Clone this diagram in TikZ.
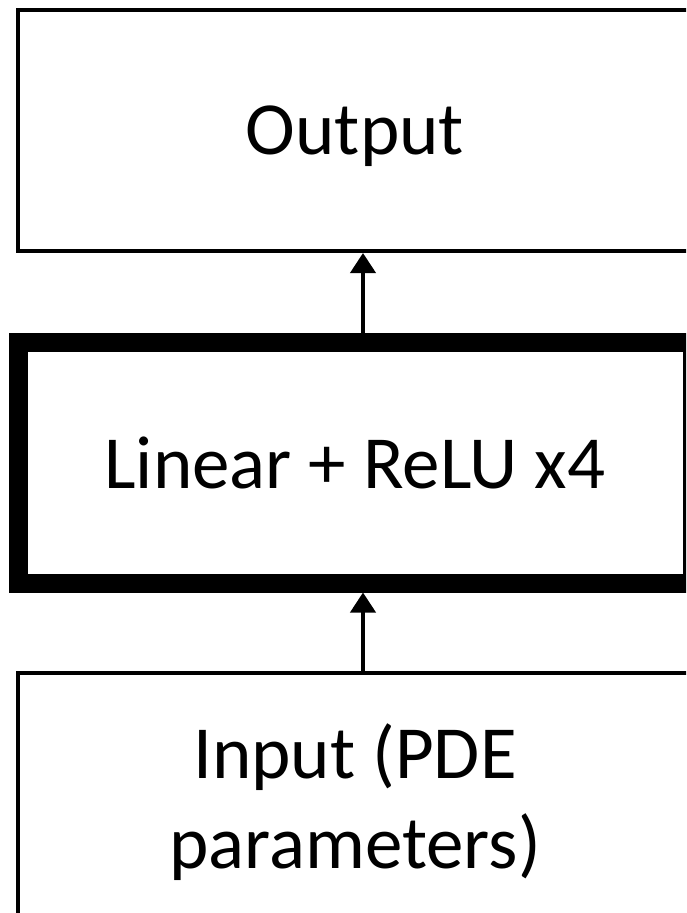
\documentclass[tikz,border=0pt]{standalone}
\usepackage{fontspec}
\setmainfont{Carlito}
\usetikzlibrary{arrows.meta, positioning}
\tikzset{
    layer/.style={draw, line width=4pt, minimum width=674pt, minimum height=241pt,
        inner sep=0pt, align=center, text depth=0pt, font=\fontsize{75}{90}\selectfont},
    mainlayer/.style={layer, line width=19pt},
    flow/.style={line width=4pt, -{Triangle[width=25pt, length=20pt]}}
}

\begin{document}
\begin{tikzpicture}
    \useasboundingbox (0,0) rectangle (686pt,-913pt);
    \clip (0,0) rectangle (686pt,-913pt);

    % 1. Output
    \node[layer] (out) at (355pt,-130.5pt) {Output};

    % 2. Hidden layers
    \node[mainlayer, below=79.5pt of out] (mid) {Linear + ReLU x4};

    % 3. Input
    \node[layer, minimum height=246pt, below=78.5pt of mid] (inp) {Input (PDE\\parameters)};

    \draw[flow] ([xshift=8pt]inp.north) -- ([xshift=8pt]mid.south);
    \draw[flow] ([xshift=8pt]mid.north) -- ([xshift=8pt]out.south);
\end{tikzpicture}
\end{document}
